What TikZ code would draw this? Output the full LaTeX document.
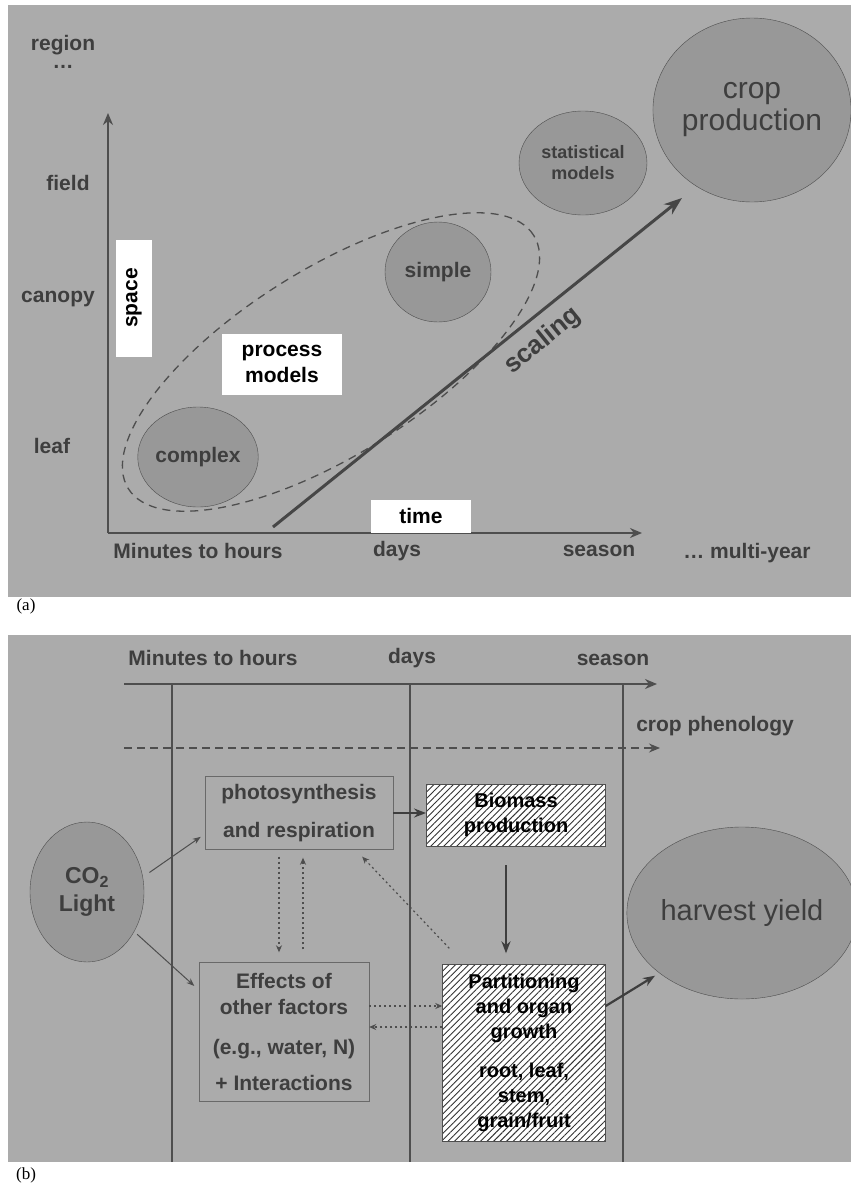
\documentclass[tikz,border=0pt]{standalone}
\usepackage{fontspec}
\setmainfont{Liberation Serif}
\setsansfont{Liberation Sans}
\usepackage{xcolor}
\usepackage{tikz}
\usetikzlibrary{shapes.geometric, arrows.meta, positioning, patterns.meta}
\definecolor{panelbg}{RGB}{171, 171, 171}
\definecolor{blobfill}{RGB}{152, 152, 152}
\definecolor{inkgray}{RGB}{62, 62, 62}
\definecolor{linegray}{RGB}{78, 78, 78}
\tikzset{
    font=\sffamily\bfseries,
    labeltext/.style={font=\sffamily\bfseries\fontsize{21}{26}\selectfont, text=inkgray, align=center},
    bigtext/.style={font=\sffamily\fontsize{30}{32}\selectfont, text=inkgray, align=center},
    blob/.style={ellipse, draw=linegray, thin, fill=blobfill, inner sep=0pt, labeltext},
    envelope/.style={ellipse, draw=linegray, line width=1.3pt, dash pattern=on 8pt off 6pt, inner sep=0pt},
    whitebox/.style={rectangle, fill=white, inner sep=0pt, align=center, font=\sffamily\bfseries\fontsize{21}{26}\selectfont, text=black},
    plainbox/.style={rectangle, draw=linegray!85, thin, inner sep=0pt, labeltext},
    hatchbox/.style={rectangle, draw=linegray, thin, inner sep=0pt, align=center, preaction={fill=white}, pattern={Lines[angle=45, distance=4.6pt, line width=0.9pt]}, pattern color=black!80, font=\sffamily\bfseries\fontsize{20}{25}\selectfont, text=black},
    axis/.style={-{Stealth[length=12pt, width=10pt]}, line width=1.6pt, color=linegray},
    gridline/.style={line width=1.1pt, color=linegray},
    scalearrow/.style={-{Stealth[length=18pt, width=13pt]}, line width=3pt, color=linegray!90!black},
    phenarrow/.style={-{Stealth[length=11pt, width=9pt]}, line width=1.3pt, color=linegray, dash pattern=on 8pt off 5pt},
    thinflow/.style={-{Stealth[length=8pt, width=6pt]}, line width=1pt, color=linegray},
    heavyflow/.style={-{Stealth[length=12pt, width=9pt]}, line width=2.2pt, color=linegray!80!black},
    dotflow/.style={-{Stealth[length=7pt, width=6pt]}, line width=1.2pt, color=linegray, dash pattern=on 2pt off 3pt},
    panellabel/.style={font=\rmfamily\fontsize{17}{20}\selectfont, text=black}
}

\begin{document}
\begin{tikzpicture}[x=1pt, y=-1pt]

    \useasboundingbox (0,0) rectangle (851,1186);
    \fill [panelbg] (8,5) rectangle (851,597);
    \fill [panelbg] (8,635) rectangle (851,1162);

    \node (tagA) [panellabel] at (26,606) {(a)};
    \node (tagB) [panellabel] at (26,1175) {(b)};

    \node (region)  [labeltext] at (63,45) {region};
    \node (regdots) [labeltext] at (63,67) {\ldots};
    \node (field)   [labeltext] at (68,183) {field};
    \node (canopy)  [labeltext] at (58,299) {canopy};
    \node (leaf)    [labeltext] at (52,446) {leaf};

    \coordinate (origin) at (108,533);
    \coordinate (ytip) at (108,113);
    \coordinate (xtip) at (642,533);
    \draw [axis] (origin) -- (ytip);
    \draw [axis] (origin) -- (xtip);

    \node (procenv) [envelope, minimum width=478, minimum height=186, rotate=32] at (331,362) {};

    \node (complex)  [blob, minimum width=118, minimum height=100] at (198,457) {complex};
    \node (simple)   [blob, minimum width=106, minimum height=100] at (438,272) {simple};
    \node (statmod)  [blob, minimum width=128, minimum height=104, font=\sffamily\bfseries\fontsize{18}{21}\selectfont] at (583,163) {statistical\\models};
    \node (cropprod) [blob, minimum width=194, minimum height=184, bigtext] at (752,110) {crop\\production};

    \node (spacebox) [whitebox, minimum width=117, minimum height=36, rotate=90] at (134,298) {space};
    \node (timebox)  [whitebox, minimum width=100, minimum height=33] at (421,516) {time};
    \node (procbox)  [whitebox, minimum width=120, minimum height=61] at (282,364) {process\\models};

    \coordinate (scalefrom) at (273,527);
    \coordinate (scaleto) at (682,198);
    \draw [scalearrow] (scalefrom) -- (scaleto);
    \node (scalelbl) [labeltext, font=\sffamily\bfseries\fontsize{26}{28}\selectfont, rotate=39] at (543,341) {scaling};

    \node (tminutes) [labeltext] at (198,551) {Minutes to hours};
    \node (tdays)    [labeltext] at (397,551) {days};
    \node (tseason)  [labeltext] at (599,551) {season};
    \node (tmulti)   [labeltext] at (747,553) {\ldots{} multi-year};

    \node (bminutes) [labeltext] at (213,658) {Minutes to hours};
    \node (bdays)    [labeltext] at (412,658) {days};
    \node (bseason)  [labeltext] at (613,660) {season};

    \coordinate (tlstart) at (124,684);
    \coordinate (tlend) at (657,684);
    \draw [axis] (tlstart) -- (tlend);
    \foreach \cx in {172,410,623}
        \draw [gridline] (\cx,684) -- (\cx,1162);

    \coordinate (phstart) at (124,748);
    \coordinate (phend) at (660,748);
    \draw [phenarrow] (phstart) -- (phend);
    \node (phenlbl) [labeltext] at (715,726) {crop phenology};

    \node (photo)     [plainbox, minimum width=188, minimum height=73] at (299,813) {photosynthesis\\[12pt]and respiration};
    \node (biomass)   [hatchbox, minimum width=179, minimum height=62] at (516,815) {Biomass\\production};
    \node (co2)       [blob, minimum width=114, minimum height=140, font=\sffamily\bfseries\fontsize{23}{28}\selectfont] at (87,892) {CO\textsubscript{2}\\Light};
    \node (effects)   [plainbox, minimum width=170, minimum height=139] at (284,1032) {Effects of\\other factors\\[14pt](e.g., water, N)\\[10pt]+ Interactions};
    \node (partition) [hatchbox, minimum width=163, minimum height=177] at (524,1053) {Partitioning\\and organ\\growth\\[14pt]root, leaf,\\stem,\\grain/fruit};
    \node (harvest)   [blob, minimum width=204, minimum height=172, font=\sffamily\fontsize{29}{32}\selectfont] at (742,913) {harvest yield};

    \draw [heavyflow, line width=1.8pt] (photo.east) -- (photo.east -| biomass.west);
    \draw [thinflow, shorten <=8pt, shorten >=5pt] (co2.15) -- ([yshift=-21pt]photo.west);
    \draw [thinflow, shorten <=4pt, shorten >=6pt] (co2.-40) -- ([yshift=42pt]effects.west);
    \draw [dotflow, shorten <=7pt, shorten >=10pt] ([xshift=-20pt]photo.south) -- ([xshift=-20pt]photo.south |- effects.north);
    \draw [dotflow, shorten <=13pt, shorten >=8pt] ([xshift=4pt]photo.south -| effects.north) ++(15pt,0) coordinate (upfoot) (upfoot |- effects.north) -- (upfoot |- photo.south);
    \draw [dotflow] ([shift={(7pt,16pt)}]partition.north west) -- ([shift={(-31pt,-7pt)}]photo.south east);
    \draw [dotflow] ([yshift=26pt]effects.east) -- ([yshift=26pt]effects.east -| partition.west);
    \draw [dotflow] ([yshift=5pt]effects.east -| partition.west) -- ([yshift=5pt]effects.east);
    \draw [heavyflow] ([xshift=-10pt]biomass.south) ++(0,-19pt) coordinate (bfoot) -- ([yshift=11pt]bfoot |- partition.north);
    \draw [heavyflow, shorten >=5pt] ([yshift=47pt]partition.east) -- (harvest.216);

\end{tikzpicture}
\end{document}
